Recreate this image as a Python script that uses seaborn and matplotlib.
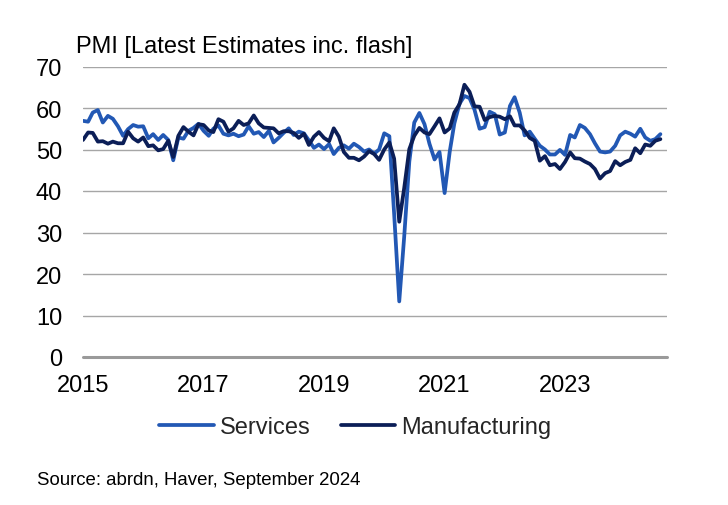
import matplotlib
matplotlib.use("Agg")
import matplotlib.pyplot as plt
from matplotlib.lines import Line2D
import seaborn as sns
import pandas as pd

# ---- data (UK PMI, monthly Jan 2015 - Aug 2024) ----
start_month = "2015-01-01"
end_month = "2024-08-01"

services = [
    56.9, 56.7, 58.9, 59.5, 56.5, 58.1, 57.4, 55.6, 53.3, 54.9, 55.9, 55.5,
    55.6, 52.7, 53.7, 52.3, 53.5, 52.3, 47.4, 52.9, 52.6, 54.5, 55.2, 56.2,
    54.5, 53.3, 55.0, 55.8, 53.8, 53.4, 53.8, 53.2, 53.6, 55.6, 53.8, 54.2,
    53.0, 54.5, 51.7, 52.8, 54.0, 55.1, 53.5, 54.3, 53.9, 52.2, 50.4, 51.2,
    50.1, 51.3, 48.9, 50.4, 51.0, 50.2, 51.4, 50.6, 49.5, 50.0, 49.0, 50.0,
    53.9, 53.2, 34.5, 13.4, 29.0, 47.1, 56.5, 58.8, 56.1, 51.4, 47.6, 49.4,
    39.5, 49.5, 56.3, 61.0, 62.9, 62.4, 59.6, 55.0, 55.4, 59.1, 58.5, 53.6,
    54.1, 60.5, 62.6, 58.9, 53.4, 54.3, 52.6, 50.9, 50.0, 48.8, 48.8, 49.9,
    48.7, 53.5, 52.9, 55.9, 55.2, 53.7, 51.5, 49.5, 49.3, 49.5, 50.9, 53.4,
    54.3, 53.8, 53.1, 55.0, 52.9, 52.1, 52.5, 53.7,
]

manufacturing = [
    52.3, 54.1, 54.0, 51.9, 52.0, 51.4, 51.9, 51.5, 51.5, 54.3, 52.7, 51.9,
    52.9, 50.8, 51.0, 49.8, 50.1, 52.1, 48.2, 53.3, 55.4, 54.3, 53.4, 56.1,
    55.9, 54.6, 54.2, 57.3, 56.7, 54.3, 55.1, 56.9, 55.9, 56.3, 58.2, 56.3,
    55.3, 55.2, 55.1, 53.9, 54.4, 54.4, 54.0, 52.8, 53.8, 51.1, 53.1, 54.2,
    52.8, 52.0, 55.1, 53.1, 49.4, 48.0, 48.0, 47.4, 48.3, 49.6, 48.9, 47.5,
    50.0, 51.7, 47.8, 32.6, 40.7, 50.1, 53.3, 55.2, 54.1, 53.7, 55.6, 57.5,
    54.1, 55.1, 58.9, 60.9, 65.6, 63.9, 60.4, 60.3, 57.1, 57.8, 58.1, 57.9,
    57.3, 58.0, 55.8, 55.8, 54.6, 52.8, 52.1, 47.3, 48.4, 46.2, 46.5, 45.3,
    47.0, 49.3, 47.9, 47.8, 47.1, 46.5, 45.3, 43.0, 44.3, 44.8, 47.2, 46.2,
    47.0, 47.5, 50.3, 49.1, 51.2, 50.9, 52.1, 52.5,
]

series_names = ["Services", "Manufacturing"]
year_labels = ["2015", "2017", "2019", "2021", "2023"]
y_ticks = [0, 10, 20, 30, 40, 50, 60, 70]
title_text = "PMI [Latest Estimates inc. flash]"
source_text = "Source: abrdn, Haver, September 2024"

# ---- styling ----
c_serv = "#2258B4"
c_manu = "#0B1E57"
grid_col = "#A6A6A6"

sns.set_theme(style="white")
plt.rcParams['font.family'] = ['Liberation Sans', 'DejaVu Sans']

months = pd.date_range(start_month, end_month, freq="MS")
df = pd.DataFrame({"date": months, series_names[0]: services,
                   series_names[1]: manufacturing})
long = df.melt(id_vars="date", var_name="series", value_name="pmi")

W, H = 728, 506
fig = plt.figure(figsize=(W / 100, H / 100), dpi=100)
ax = fig.add_axes([83 / W, 1 - 358 / H, (667 - 83) / W, (358 - 67.5) / H])

sns.lineplot(data=long, x="date", y="pmi", hue="series",
             hue_order=series_names,
             palette={series_names[0]: c_serv, series_names[1]: c_manu},
             linewidth=2.7, ax=ax, legend=False)

ax.set_ylim(0, 70)
ax.set_yticks(y_ticks)
ax.set_xlim(pd.Timestamp(start_month), pd.Timestamp("2024-09-10"))
ax.set_xticks([pd.Timestamp(f"{y}-01-01") for y in year_labels])
ax.set_xticklabels(year_labels)
ax.set_xlabel("")
ax.set_ylabel("")
for s in ax.spines.values():
    s.set_visible(False)
ax.grid(axis="y", color=grid_col, linewidth=1.0)
ax.grid(axis="x", visible=False)
ax.set_axisbelow(True)
ax.axhline(0, color="#9A9A9A", linewidth=2.2, zorder=1.5, clip_on=False)
ax.tick_params(axis="both", length=0, labelsize=17, colors="black")
ax.tick_params(axis="y", pad=15)
ax.tick_params(axis="x", pad=12)

handles = [Line2D([], [], color=c_serv, linewidth=2.7),
           Line2D([], [], color=c_manu, linewidth=2.7)]
fig.legend(handles, series_names, loc="center",
           bbox_to_anchor=(0.488, 1 - 428 / H), ncol=2, frameon=False,
           fontsize=17, handlelength=2.3, handletextpad=0.25,
           columnspacing=1.3)

fig.text(76 / W, 1 - 47 / H, title_text, fontsize=17, va="center",
         ha="left", color="black")
fig.text(37 / W, 1 - 481 / H, source_text, fontsize=13.4, va="center",
         ha="left", color="black")

fig.savefig("out.png", dpi=100)
